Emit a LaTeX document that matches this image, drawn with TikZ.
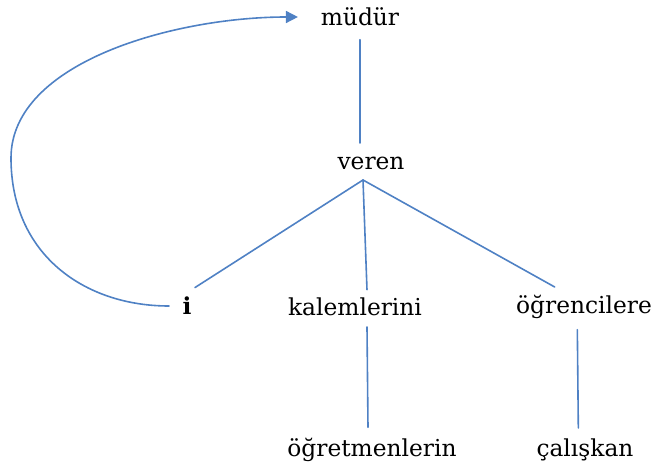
\documentclass[tikz,border=0pt]{standalone}
\usepackage{fontspec}
\setmainfont{DejaVu Serif}
\usetikzlibrary{arrows.meta}
\definecolor{treeblue}{RGB}{79,129,196}
\begin{document}
\begin{tikzpicture}[x=0.75pt,y=-0.75pt,line cap=round,line join=round,
        word/.style={font=\fontsize{17.5}{20}\selectfont,inner sep=2pt},
        edge/.style={draw=treeblue,line width=1.2pt}]
        \useasboundingbox (0,0) rectangle (651,470);
        \node[word] (mudur) at (360,17) {müdür};
        \node[word] (veren) at (371,163) {veren};
        \node[word,font=\fontsize{17.5}{20}\selectfont\bfseries] (i) at (187,306) {i};
        \node[word] (kalem) at (355,307) {kalemlerini};
        \node[word] (ogrenci) at (584,307) {öğrencilere};
        \node[word] (ogretmen) at (372,450) {öğretmenlerin};
        \node[word] (caliskan) at (585,450) {çalışkan};
        \coordinate (hub) at (363,180);

        \draw[edge] ([yshift=-8pt]mudur.south) -- ([yshift=8pt]mudur.south |- veren.north);
        \draw[edge] (hub) -- ([xshift=6pt,yshift=5pt]i.north);
        \draw[edge] (hub) -- ([xshift=9pt,yshift=4pt]kalem.north);
        \draw[edge] (hub) -- ([xshift=-22pt,yshift=4pt]ogrenci.north);
        \draw[edge] ([xshift=9pt,yshift=-6pt]kalem.south) -- ([xshift=-3pt,yshift=6pt]ogretmen.north);
        \draw[edge] ([xshift=-5pt,yshift=-6pt]ogrenci.south) -- ([xshift=-5pt,yshift=6pt]caliskan.north);
        \draw[edge,-{Triangle[length=9pt,width=9pt]}] ([xshift=-8pt]i.west)
          .. controls (85,306) and (11,255) .. (11,158)
          .. controls (11,62) and (175,17) .. ([xshift=-15pt]mudur.west);
\end{tikzpicture}
\end{document}
